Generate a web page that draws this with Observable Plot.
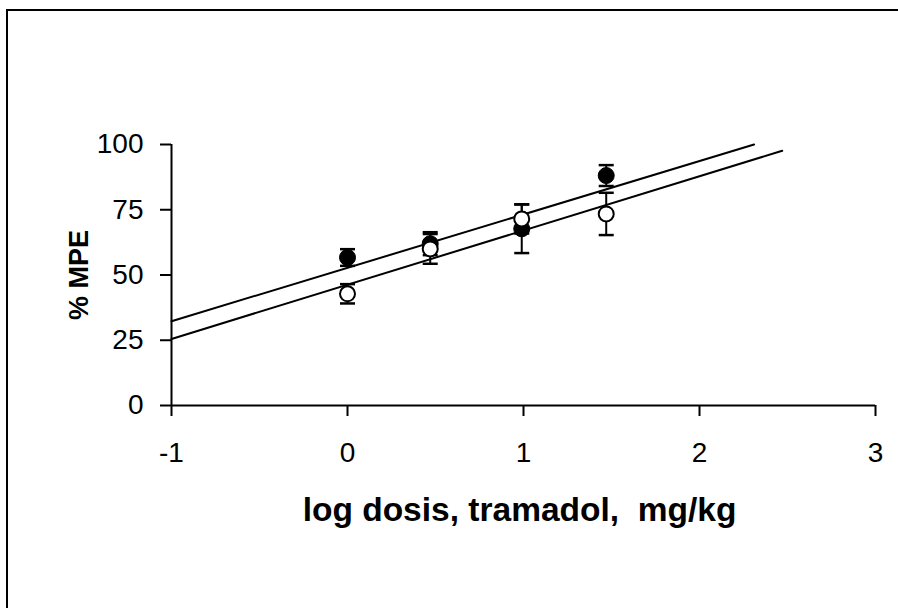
<!DOCTYPE html>
<html>
<head>
<meta charset="utf-8">
<script src="https://cdn.jsdelivr.net/npm/d3@7"></script>
<script src="https://cdn.jsdelivr.net/npm/@observablehq/plot@0.6"></script>
<style>
  html, body { margin: 0; padding: 0; background: #fff; overflow: hidden; }
  #wrap { position: relative; width: 898px; height: 608px; overflow: hidden; background: #fff; }
  #border { position: absolute; left: 0; top: 0; pointer-events: none; }
  #chart { position: absolute; left: 0; top: 0; }
  svg text { white-space: pre; }
</style>
</head>
<body>
<div id="wrap"><div id="chart"></div>
<svg id="border" width="898" height="608"><path d="M7,608V10H898" fill="none" stroke="#000" stroke-width="2"/></svg>
</div>
<script>
// log dose values (x)
const logDose = [0, 0.47, 0.99, 1.47];
// filled circles: mean %MPE and error
const filledMean = [56.7, 62, 67.7, 88.1];
const filledErr = [3.2, 4.4, 9.3, 4.0];
// open circles: mean %MPE and error
const openMean = [42.8, 60, 71.5, 73.4];
const openErr = [3.7, 5.7, 5.6, 8.1];
// regression line endpoints
const filledLineX = [-1, 2.31];
const filledLineY = [32.3, 100];
const openLineX = [-1, 2.47];
const openLineY = [25.5, 97.6];
// ticks
const xTicks = [-1, 0, 1, 2, 3];
const yTicks = [0, 25, 50, 75, 100];
const xTitle = "log dosis, tramadol,  mg/kg";
const yTitle = "% MPE";

const filled = logDose.map((x, i) => ({x, y: filledMean[i], lo: filledMean[i] - filledErr[i], hi: filledMean[i] + filledErr[i]}));
const open = logDose.map((x, i) => ({x, y: openMean[i], lo: openMean[i] - openErr[i], hi: openMean[i] + openErr[i]}));
const fLine = filledLineX.map((x, i) => ({x, y: filledLineY[i]}));
const oLine = openLineX.map((x, i) => ({x, y: openLineY[i]}));

const cap = { draw(ctx, size) { const r = Math.sqrt(size / Math.PI); ctx.moveTo(-r, 0); ctx.lineTo(r, 0); } };

function bars(data) {
  return [
    Plot.ruleX(data, {x: "x", y1: "lo", y2: "hi", stroke: "#000", strokeWidth: 2}),
    Plot.dot(data, {x: "x", y: "lo", symbol: cap, r: 7.5, stroke: "#000", strokeWidth: 2.5, fill: "none"}),
    Plot.dot(data, {x: "x", y: "hi", symbol: cap, r: 7.5, stroke: "#000", strokeWidth: 2.5, fill: "none"})
  ];
}

const chart = Plot.plot({
  width: 898,
  height: 608,
  marginLeft: 171,
  marginRight: 23,
  marginTop: 144,
  marginBottom: 203,
  style: {fontFamily: "'Liberation Sans', Arial, sans-serif", color: "#000", background: "transparent"},
  x: {domain: [-1, 3]},
  y: {domain: [0, 100]},
  marks: [
    Plot.axisX({ticks: xTicks, tickSize: 11, tickPadding: 26, fontSize: 28, strokeWidth: 2, tickFormat: d => String(d), label: null}),
    Plot.axisY({ticks: yTicks, tickSize: 11, tickPadding: 17, fontSize: 28, strokeWidth: 2, tickFormat: d => String(d), label: null}),
    Plot.ruleY([0], {stroke: "#000", strokeWidth: 2}),
    Plot.ruleX([-1], {y1: 0, y2: 100, stroke: "#000", strokeWidth: 2}),
    Plot.line(fLine, {x: "x", y: "y", stroke: "#000", strokeWidth: 2}),
    Plot.line(oLine, {x: "x", y: "y", stroke: "#000", strokeWidth: 2}),
    ...bars(filled),
    Plot.dot(filled, {x: "x", y: "y", r: 8, fill: "#000", stroke: "#000", strokeWidth: 1}),
    ...bars(open),
    Plot.dot(open, {x: "x", y: "y", r: 7.5, fill: "#fff", stroke: "#000", strokeWidth: 2}),
    Plot.text([xTitle], {text: d => d, frameAnchor: "bottom", textAnchor: "middle", dx: -4, dy: 105, lineAnchor: "middle", fontSize: 33.5, fontWeight: "bold", fill: "#000"}),
    Plot.text([yTitle], {text: d => d, frameAnchor: "left", textAnchor: "middle", dx: -92, rotate: -90, lineAnchor: "middle", fontSize: 27, fontWeight: "bold", fill: "#000"})
  ]
});
document.getElementById("chart").appendChild(chart);
</script>
</body>
</html>
